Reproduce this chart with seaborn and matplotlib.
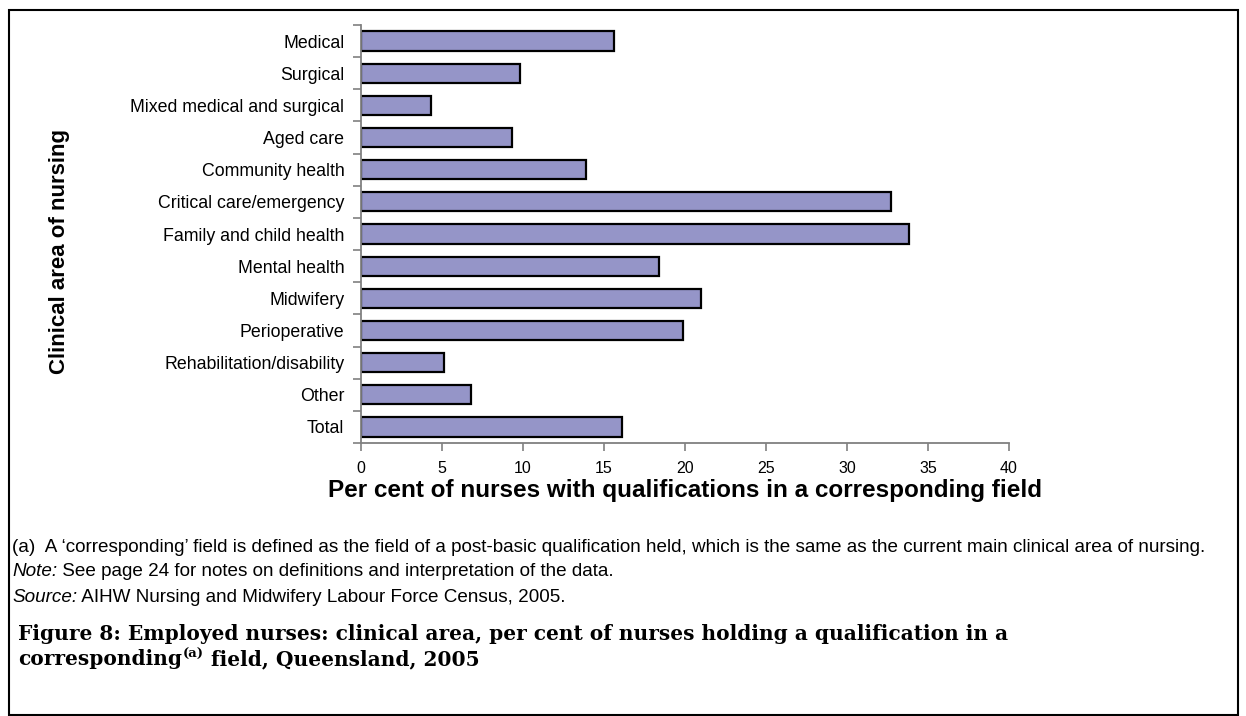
import matplotlib
matplotlib.use("Agg")
import matplotlib.pyplot as plt
import seaborn as sns
import pandas as pd
import numpy as np

categories = ["Medical", "Surgical", "Mixed medical and surgical", "Aged care",
              "Community health", "Critical care/emergency", "Family and child health",
              "Mental health", "Midwifery", "Perioperative", "Rehabilitation/disability",
              "Other", "Total"]
values = [15.6, 9.8, 4.3, 9.3, 13.9, 32.7, 33.8, 18.4, 21.0, 19.9, 5.1, 6.8, 16.1]
x_ticks = [0, 5, 10, 15, 20, 25, 30, 35, 40]

sns.set_theme(style="white")
plt.rcParams['font.family'] = ['Liberation Sans', 'DejaVu Sans']
plt.rcParams['text.color'] = 'black'
plt.rcParams['axes.labelcolor'] = 'black'
plt.rcParams['xtick.color'] = 'black'
plt.rcParams['ytick.color'] = 'black'

W, H = 1246, 716
fig = plt.figure(figsize=(W / 100, H / 100), dpi=100)

def fx(px):
    return px / W

def fy(py):
    return 1 - py / H

ax = fig.add_axes([fx(361), fy(443), fx(1009) - fx(361), fy(25) - fy(443)])

df = pd.DataFrame({"area": categories, "pct": values})
sns.barplot(data=df, y="area", x="pct", orient="h", color="#9595C8", saturation=1,
            edgecolor="black", linewidth=1.6, width=0.6, ax=ax)

ax.set_xlim(0, 40)
ax.set_ylim(len(categories) - 0.5, -0.5)
ax.set_xticks(x_ticks)
ax.set_xticklabels([str(t) for t in x_ticks], fontsize=11.5)
ax.set_yticks(range(len(categories)))
ax.set_yticklabels(categories, fontsize=12.8)
ax.set_yticks(np.arange(-0.5, len(categories), 1.0), minor=True)
ax.tick_params(axis="y", which="major", length=0, pad=12, labelcolor="black")
ax.tick_params(axis="y", which="minor", length=6, width=1.2, color="#808080", direction="out", left=True)
ax.tick_params(axis="x", which="major", length=6, width=1.2, color="#808080", direction="out",
               bottom=True, pad=7, labelcolor="black")
ax.set_xlabel("")
ax.set_ylabel("")
for s in ["top", "right"]:
    ax.spines[s].set_visible(False)
for s in ["left", "bottom"]:
    ax.spines[s].set_color("#808080")
    ax.spines[s].set_linewidth(1.3)
ax.grid(False)

fig.text(fx(685), fy(491), "Per cent of nurses with qualifications in a corresponding field",
         ha="center", va="center", fontsize=17.5, fontweight="bold")
fig.text(fx(60), fy(252), "Clinical area of nursing", ha="center", va="center",
         rotation=90, fontsize=16, fontweight="bold")

FS = 13.6
fig.text(fx(12), fy(547), "(a)  A \u2018corresponding\u2019 field is defined as the field of a post-basic qualification held, which is the same as the current main clinical area of nursing.",
         ha="left", va="center", fontsize=FS)
t1 = fig.text(fx(12), fy(572), "Note:", ha="left", va="center", fontsize=FS, style="italic")
t2 = fig.text(fx(12), fy(597), "Source:", ha="left", va="center", fontsize=FS, style="italic")

fig.canvas.draw()
r = fig.canvas.get_renderer()
def right_edge(t):
    bb = t.get_window_extent(renderer=r)
    return bb.x1 / W

fig.text(right_edge(t1), fy(572), " See page 24 for notes on definitions and interpretation of the data.",
         ha="left", va="center", fontsize=FS)
fig.text(right_edge(t2), fy(597), " AIHW Nursing and Midwifery Labour Force Census, 2005.",
         ha="left", va="center", fontsize=FS)

serif = ["DejaVu Serif"]
cap_kw = dict(fontsize=14.5, fontweight="bold", family=serif)
fig.text(fx(18), fy(634), "Figure 8: Employed nurses: clinical area, per cent of nurses holding a qualification in a",
         ha="left", va="center", **cap_kw)
c1 = fig.text(fx(18), fy(659), "corresponding", ha="left", va="center", **cap_kw)
fig.canvas.draw()
x1 = right_edge(c1)
c2 = fig.text(x1 + 1 / W, fy(654), "(a)", ha="left", va="center", fontsize=9.5, fontweight="bold",
              family=serif)
fig.canvas.draw()
x2 = right_edge(c2)
fig.text(x2, fy(659), " field, Queensland, 2005", ha="left", va="center", **cap_kw)

# outer frame
frame = plt.Rectangle((fx(9), fy(715)), fx(1238) - fx(9), fy(10) - fy(715), transform=fig.transFigure,
                      fill=False, edgecolor="black", linewidth=1.5)
fig.add_artist(frame)

fig.savefig("out.png", dpi=100)
